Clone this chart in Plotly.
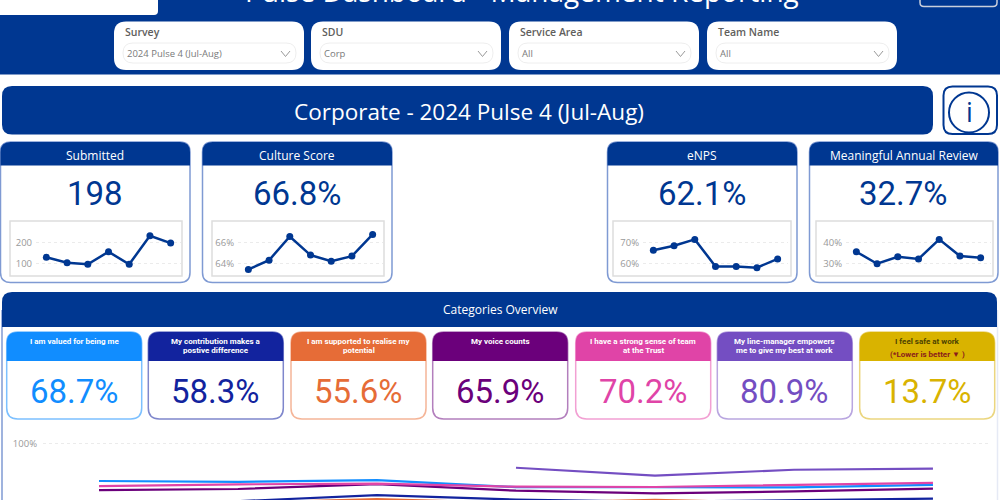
"""Pulse dashboard page: KPI cards, sparklines and the categories trend chart."""

import plotly.graph_objects as go

W, H = 1000, 500
BLUE = "#003791"
BORDER = "#7F9AD3"
UI_FONT = "Open Sans"
NUM_FONT = "Roboto"

PAGE_TITLE = "Pulse Dashboard - Management Reporting"
BANNER = "Corporate - 2024 Pulse 4 (Jul-Aug)"
SLICER_LABELS = ["Survey", "SDU", "Service Area", "Team Name"]
SLICER_VALUES = ["2024 Pulse 4 (Jul-Aug)", "Corp", "All", "All"]

PERIODS = ["P1", "P2", "P3", "P4", "P5", "P6", "P7"]

KPI_TITLES = ["Submitted", "Culture Score", "eNPS", "Meaningful Annual Review"]
KPI_VALUES = ["198", "66.8%", "62.1%", "32.7%"]
SUBMITTED = [129, 103, 95, 156, 95, 234, 198]
CULTURE = [63.4, 64.3, 66.6, 64.8, 64.2, 64.7, 66.8]
ENPS = [66.3, 68.5, 71.6, 58.5, 58.5, 57.9, 62.1]
ANNUAL_REVIEW = [35.6, 29.8, 33.2, 32.1, 41.6, 33.5, 32.7]

CATEGORY_TITLES = [
    ["I am valued for being me"],
    ["My contribution makes a", "postive difference"],
    ["I am supported to realise my", "potential"],
    ["My voice counts"],
    ["I have a strong sense of team", "at the Trust"],
    ["My line-manager empowers", "me to give my best at work"],
    ["I feel safe at work"],
]
CATEGORY_VALUES = ["68.7%", "58.3%", "55.6%", "65.9%", "70.2%", "80.9%", "13.7%"]
CATEGORY_COLORS = ["#118DFF", "#12239E", "#E66C37", "#6B007B", "#E044A7", "#744EC2", "#D9B300"]
CATEGORY_BORDERS = ["#7CC0FF", "#7F87CC", "#F5B598", "#B37FBD", "#F2A0D3", "#B9A6E0", "#EBD67F"]

VALUED = [71.6, 71.0, 72.3, 67.0, 67.0, 66.8, 68.7]
CONTRIBUTION = [55.0, 56.4, 61.0, 57.6, 56.0, 57.0, 58.3]
SUPPORTED = [54.0, 55.0, 58.0, 55.0, 57.4, 55.0, 55.6]
VOICE = [64.8, 65.6, 69.3, 64.3, 62.3, 63.8, 65.9]
TEAM = [67.8, 69.1, 69.6, 67.3, 67.1, 68.6, 70.2]
LINE_MANAGER = [None, None, None, 81.6, 75.6, 80.1, 80.9]
SAFE = [None, None, None, None, None, None, 13.7]
CATEGORY_SERIES = [VALUED, CONTRIBUTION, SUPPORTED, VOICE, TEAM, LINE_MANAGER, SAFE]


def px(x):
    return x / W


def py(y):
    return 1 - y / H


def round_path(x0, y0, x1, y1, r=10, top=True, bottom=True):
    """Rounded rectangle as an SVG path in paper coordinates."""
    rt = r if top else 0
    rb = r if bottom else 0
    return (
        f"M {px(x0)} {py(y0 + rt)} Q {px(x0)} {py(y0)} {px(x0 + rt)} {py(y0)} "
        f"L {px(x1 - rt)} {py(y0)} Q {px(x1)} {py(y0)} {px(x1)} {py(y0 + rt)} "
        f"L {px(x1)} {py(y1 - rb)} Q {px(x1)} {py(y1)} {px(x1 - rb)} {py(y1)} "
        f"L {px(x0 + rb)} {py(y1)} Q {px(x0)} {py(y1)} {px(x0)} {py(y1 - rb)} Z"
    )


shapes = []
annotations = []


def box(x0, y0, x1, y1, fill="rgba(0,0,0,0)", line=None, width=1, **kw):
    shapes.append(dict(
        type="path", xref="paper", yref="paper", layer="below",
        path=round_path(x0, y0, x1, y1, **kw), fillcolor=fill,
        line=dict(color=line or "rgba(0,0,0,0)", width=width),
    ))


def edge(x, y0, y1, color, width):
    shapes.append(dict(
        type="line", xref="paper", yref="paper", layer="below",
        x0=px(x), x1=px(x), y0=py(y0), y1=py(y1), line=dict(color=color, width=width),
    ))


def label(x, y, text, size, color, font=UI_FONT, anchor="center", weight="normal"):
    annotations.append(dict(
        xref="paper", yref="paper", x=px(x), y=py(y), text=text, showarrow=False,
        xanchor=anchor, yanchor="middle",
        font=dict(size=size, color=color, family=font, weight=weight),
    ))


# Header band
box(-5, -5, W + 5, 74.5, fill=BLUE, r=0)
box(-5, -12, 158, 15, fill="white", r=4)
box(920, -20, 997, 6.5, line="#C9CFDC", width=1.5, r=4)
label(522, -9, PAGE_TITLE, 28, "white")

# Slicers
SLICER_X = [114, 311, 509, 707]
for x, name, value in zip(SLICER_X, SLICER_LABELS, SLICER_VALUES):
    box(x, 21.5, x + 190, 70, fill="white", r=12)
    box(x + 9, 43, x + 182, 63, line="#EEEEEE")
    label(x + 9, 32, name, 10.5, "#605E5C", anchor="left", weight=600)
    label(x + 11, 54, value, 9.5, "#7A7A7A", anchor="left")
    shapes.append(dict(
        type="path", xref="paper", yref="paper", layer="below",
        path=f"M {px(x + 167)} {py(51)} L {px(x + 171.5)} {py(56.5)} L {px(x + 176)} {py(51)}",
        line=dict(color="#999999", width=1),
    ))

# Banner and info button
box(2, 86, 933, 134.5, fill=BLUE, r=10)
label(469, 112, BANNER, 22.5, "white")
box(943.5, 86.5, 997, 134, line=BLUE, width=2, r=9)
shapes.append(dict(
    type="circle", xref="paper", yref="paper", layer="below",
    x0=px(949), x1=px(989), y0=py(132.5), y1=py(92.5), line=dict(color=BLUE, width=2),
))
label(969, 112, "i", 27, BLUE)

# KPI cards
KPI_X = [(0, 190), (202, 392), (607, 797), (809, 998)]
SPARK_BOX = [(10, 182), (212, 384), (613, 791), (816, 993)]
SPARK_PLOT = [(36, 181), (238, 383), (643, 788), (846, 991)]
SPARK_SERIES = [SUBMITTED, CULTURE, ENPS, ANNUAL_REVIEW]
SPARK_TICKS = [[100, 200], [64, 66], [60, 70], [30, 40]]
SPARK_TICK_TEXT = [["100", "200"], ["64%", "66%"], ["60%", "70%"], ["30%", "40%"]]

for (x0, x1), title, value, (bx0, bx1) in zip(KPI_X, KPI_TITLES, KPI_VALUES, SPARK_BOX):
    box(x0 + 0.5, 142, x1, 282.5, fill="white", line=BORDER, width=1.5, r=10)
    box(x0 + 0.5, 142, x1, 165.5, fill=BLUE, r=10, bottom=False)
    box(bx0, 221, bx1, 276, line="#DDDDDD", width=1.5, r=0)
    label((x0 + x1) / 2, 155, title, 12, "white")
    label((x0 + x1) / 2, 193, value, 33, BLUE, font=NUM_FONT)

# Categories panel, only the left edge is a strong line
edge(2, 310, 505, BORDER, 1.5)
edge(997.5, 310, 505, "#E6EAF5", 1.5)
box(2, 292, 997, 327, fill=BLUE, r=10, bottom=False)
label(500, 309.5, "Categories Overview", 12, "white")

CARD_X = [6.7, 148.3, 291, 432.7, 575.7, 717.3, 859.7]
for i, x in enumerate(CARD_X):
    color = CATEGORY_COLORS[i]
    box(x, 332, x + 135, 419, fill="white", line=CATEGORY_BORDERS[i], width=1.5, r=11)
    box(x, 332, x + 135, 361, fill=color, r=11, bottom=False)
    title_color = "#4D4300" if color == "#D9B300" else "white"
    for j, line in enumerate(CATEGORY_TITLES[i]):
        label(x + 67.5, 341 + j * 9, line, 8, title_color, font=NUM_FONT, weight="bold")
    label(x + 67.5, 391, CATEGORY_VALUES[i], 33, color, font=NUM_FONT)
label(CARD_X[6] + 67.5, 354.5, "(*Lower is better ▼ )", 8, "#8A1C1C", font=NUM_FONT, weight="bold")

fig = go.Figure()

# Sparklines, one axis pair per card
layout_axes = {}
for n, (series, ticks, tick_text, (x0, x1)) in enumerate(
    zip(SPARK_SERIES, SPARK_TICKS, SPARK_TICK_TEXT, SPARK_PLOT), start=1
):
    fig.add_trace(go.Scatter(
        x=PERIODS, y=series, mode="lines+markers", xaxis=f"x{n}", yaxis=f"y{n}",
        line=dict(color=BLUE, width=2.5), marker=dict(color=BLUE, size=7), showlegend=False,
    ))
    # gridlines sit at y=263.3 (low tick) and y=242.7 (high tick)
    per_px = (ticks[1] - ticks[0]) / 20.6
    layout_axes[f"xaxis{n}"] = dict(
        domain=[px(x0), px(x1)], anchor=f"y{n}", visible=False, type="category",
        categoryarray=PERIODS, range=[-0.5, 6.5],
    )
    layout_axes[f"yaxis{n}"] = dict(
        domain=[py(274), py(224)], anchor=f"x{n}",
        range=[ticks[0] - (274 - 263.3) * per_px, ticks[1] + (242.7 - 224) * per_px],
        tickmode="array", tickvals=ticks, ticktext=tick_text, ticklabelstandoff=3,
        showline=False, zeroline=False, ticks="",
        gridcolor="#EBEBEB", griddash="dot", gridwidth=1,
        tickfont=dict(size=9.5, color="#999999", family=UI_FONT),
    )

# Categories trend, runs off the bottom of the page
for series, color, title in zip(CATEGORY_SERIES, CATEGORY_COLORS, CATEGORY_TITLES):
    fig.add_trace(go.Scatter(
        x=PERIODS, y=series, mode="lines", xaxis="x5", yaxis="y5", name=" ".join(title),
        line=dict(color=color, width=2.2), showlegend=False,
    ))
layout_axes["xaxis5"] = dict(
    domain=[px(43), px(988)], anchor="y5", visible=False, type="category",
    categoryarray=PERIODS, range=[-0.403, 6.396],
)
layout_axes["yaxis5"] = dict(
    domain=[0, py(436)], anchor="x5", range=[57.3, 105.5],
    tickmode="array", tickvals=[100], ticktext=["100%"], ticklabelstandoff=5,
    showline=False, zeroline=False, ticks="", gridcolor="#EBEBEB", griddash="dot",
    tickfont=dict(size=9.5, color="#999999", family=UI_FONT),
)

fig.update_layout(
    width=W, height=H, margin=dict(l=0, r=0, t=0, b=0),
    paper_bgcolor="white", plot_bgcolor="rgba(0,0,0,0)",
    shapes=shapes, annotations=annotations, **layout_axes,
)

# the page body has a default margin that would push the chart off the frame
fig.write_html(
    "out.html",
    config={"displayModeBar": False},
    post_script="document.body.style.margin = '0';",
)
